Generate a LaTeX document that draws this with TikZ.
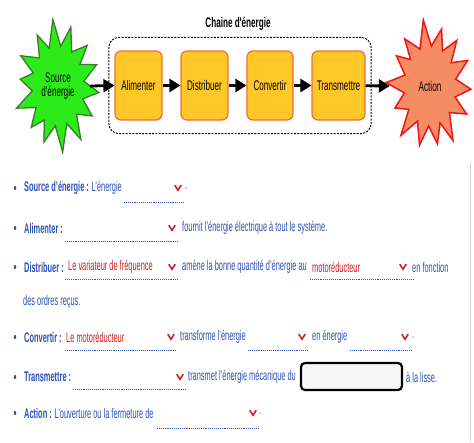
\documentclass[tikz,border=0pt]{standalone}
\usepackage{fontspec}
\setmainfont{Liberation Sans}[FakeStretch=0.53]
\newfontfamily\schemafont{Liberation Sans}[FakeStretch=0.58]
\usetikzlibrary{arrows.meta,positioning,fit}

\definecolor{boxfill}{RGB}{255,200,40}
\definecolor{boxline}{RGB}{240,110,50}
\definecolor{srcgreen}{RGB}{45,235,25}
\definecolor{srcline}{RGB}{55,125,40}
\definecolor{actfill}{RGB}{245,140,100}
\definecolor{actline}{RGB}{240,20,20}
\definecolor{txtblue}{RGB}{45,80,180}
\definecolor{ansred}{RGB}{205,30,30}

\tikzset{
  fonction/.style={draw=boxline, fill=boxfill, line width=1.2pt, rounded corners=6pt,
    minimum height=69pt, inner sep=0pt, font=\schemafont\fontsize{14}{15}\selectfont},
  flux/.style={line width=2.8pt, -{Triangle[length=11pt,width=13pt]}},
  ligne/.style={anchor=west, inner sep=0pt, text=txtblue, font=\fontsize{14}{16}\selectfont},
  reponse/.style={anchor=west, inner sep=0pt, text=ansred, font=\fontsize{14}{16}\selectfont},
  champ/.style={densely dotted, txtblue, line width=0.9pt},
  puce/.style={fill=txtblue},
  chevron/.pic={\draw[ansred, line width=1.6pt] (-3.2,-2.8) -- (0,2.2) -- (3.2,-2.8);},
}

\begin{document}
\begin{tikzpicture}[x=1pt, y=-1pt]
  \useasboundingbox (0,0) rectangle (474,442);

  % chaine d'energie
  \node[fonction, minimum width=47pt] (alim) at (138.5,85.5) {Alimenter};
  \node[fonction, minimum width=47pt] (distr) at (204.5,85.5) {Distribuer};
  \node[fonction, minimum width=46pt] (conv) at (270,85.5) {Convertir};
  \node[fonction, minimum width=53pt] (trans) at (338.5,85.5) {Transmettre};
  \node[draw, dash pattern=on 2pt off 1.3pt, line width=1pt, rounded corners=10pt,
    inner xsep=5.5pt, inner ysep=13pt, fit=(alim)(trans)] (chaine) {};
  \node[font=\schemafont\fontsize{14}{15}\selectfont\bfseries] (titre) at (238,24) {Chaine d'énergie};

  % etoiles
  \filldraw[fill=srcgreen, draw=srcline, line width=1.3pt]
    plot[samples at={0,...,27}, variable=\k]
    ({58+cos(\k*360/28+6)*(mod(\k,2)==0 ? 41+3*sin(\k*97) : 26)},
     {86+sin(\k*360/28+6)*(mod(\k,2)==0 ? 62+5*sin(\k*131) : 40)}) -- cycle;
  \filldraw[fill=actfill, draw=actline, line width=1.5pt]
    plot[samples at={0,...,27}, variable=\k]
    ({430+cos(\k*360/28+3)*(mod(\k,2)==0 ? 41+3*sin(\k*83) : 26)},
     {86+sin(\k*360/28+3)*(mod(\k,2)==0 ? 62+5*sin(\k*113) : 40)}) -- cycle;
  \node[align=center, inner sep=0pt, minimum width=64pt, font=\schemafont\fontsize{14}{14}\selectfont] (src) at (58,86) {Source\\d'énergie};
  \node[inner sep=0pt, minimum width=80pt, font=\schemafont\fontsize{14}{15}\selectfont] (act) at (430,86) {Action};

  \draw[flux] (src.east) -- (alim.west);
  \draw[flux] (alim) -- (distr);
  \draw[flux] (distr) -- (conv);
  \draw[flux] (conv) -- (trans);
  \draw[flux] (trans) -- (act.west);

  % questions
  \draw[gray!35, line width=1pt] (470,163) -- (470,442);
  \foreach \y in {188,228,267,337,377,413}
    \fill[puce] (15,\y) ellipse (1.3 and 2);

  \node[ligne] (l1) at (24,188) {\textbf{Source d'énergie :} L'énergie};
  \draw[champ] (124,202) -- (184,202);
  \pic at (178,188) {chevron};
  \node[ligne] (p1) at (185,189) {.};

  \node[ligne] (l2) at (24,228) {\textbf{Alimenter :}};
  \draw[champ] (65,241) -- (178,241);
  \pic at (172,228) {chevron};
  \node[ligne] (l2b) at (182,228) {fournit l'énergie électrique à tout le système.};

  \node[ligne] (l3) at (24,267) {\textbf{Distribuer :}};
  \node[reponse] (r3a) at (68,267) {Le variateur de fréquence};
  \draw[champ] (65,279) -- (178,279);
  \pic at (172,267) {chevron};
  \node[ligne] (l3b) at (182,267) {amène la bonne quantité d'énergie au};
  \node[reponse] (r3b) at (312,267) {motoréducteur};
  \draw[champ] (310,279) -- (413,279);
  \pic at (403,267) {chevron};
  \node[ligne] (l3c) at (412,267) {en fonction};
  \node[ligne] (l4) at (23,302) {des ordres reçus.};

  \node[ligne] (l5) at (24,337) {\textbf{Convertir :}};
  \node[reponse] (r5) at (66,337) {Le motoréducteur};
  \draw[champ] (65,350) -- (176,350);
  \pic at (171,337) {chevron};
  \node[ligne] (l5b) at (180,337) {transforme l'énergie};
  \draw[champ] (248,350) -- (308,350);
  \pic at (302,337) {chevron};
  \node[ligne] (l5c) at (312,337) {en énergie};
  \draw[champ] (350,350) -- (411,350);
  \pic at (405,337) {chevron};
  \node[ligne] (p5) at (412,338) {.};

  \node[ligne] (l6) at (24,377) {\textbf{Transmettre :}};
  \draw[champ] (73,389) -- (186,389);
  \pic at (180,377) {chevron};
  \node[ligne] (l6b) at (188,377) {transmet l'énergie mécanique du};
  \draw[black, line width=2.2pt, fill=gray!6, rounded corners=4pt] (301,363) rectangle (402,390);
  \node[ligne] (l6c) at (406,377) {à la lisse.};

  \node[ligne] (l7) at (24,413) {\textbf{Action :} L'ouverture ou la fermeture de};
  \draw[champ] (157,428) -- (258,428);
  \pic at (253,413) {chevron};
  \node[ligne] (p7) at (259,414) {.};
\end{tikzpicture}
\end{document}
